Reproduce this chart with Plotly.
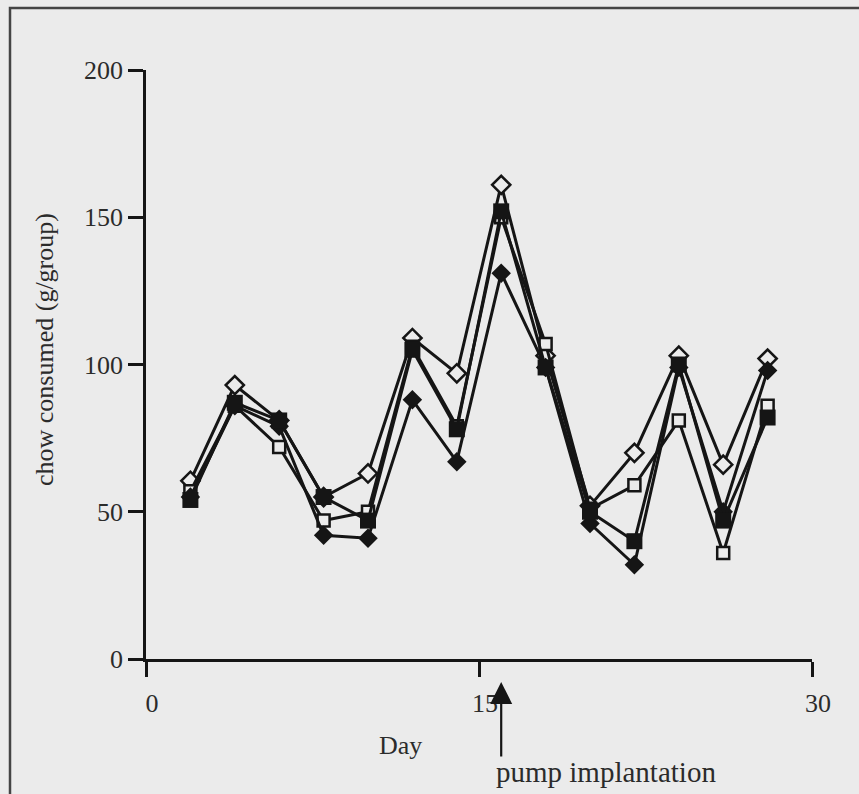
import plotly.graph_objects as go

# ---- data ----
days = [2, 4, 6, 8, 10, 12, 14, 16, 18, 20, 22, 24, 26, 28]
open_diamond = [60.5, 93, 81, 55, 63, 109, 97, 161, 103, 52, 70, 103, 66, 102]
filled_diamond = [55, 86, 79, 42, 41, 88, 67, 131, 99, 46, 32, 99, 50, 98]
filled_square = [54, 87, 81, 55, 47, 105, 78, 152, 99, 50, 40, 100, 47, 82]
open_square = [57, 86, 72, 47, 50, 106, 79, 150, 107, 51, 59, 81, 36, 86]

x_ticks = [0, 15, 30]
y_ticks = [0, 50, 100, 150, 200]
pump_day = 16

BG = "#ebebeb"
INK = "#151515"
TXT = "#2b2b2b"
FONT = "Liberation Serif"

W, H = 859, 794
L, R, T, B = 146, 47, 70, 135
PW, PH = W - L - R, H - T - B


def px_x(p):
    return (p - L) / PW


def px_y(p):
    return (H - B - p) / PH


fig = go.Figure()

series = [
    ("open diamond", open_diamond, "diamond", BG, 14, 2.5),
    ("open square", open_square, "square", BG, 12, 2.5),
    ("filled diamond", filled_diamond, "diamond", INK, 15, 0),
    ("filled square", filled_square, "square", INK, 16, 0),
]
for name, vals, sym, fill, size, lw in series:
    fig.add_trace(go.Scatter(
        x=days, y=vals, name=name, mode="lines+markers",
        line=dict(color=INK, width=3),
        marker=dict(symbol=sym, color=fill, size=size,
                    line=dict(color=INK, width=lw)),
        showlegend=False,
    ))

axis_common = dict(
    showline=True, linecolor=INK, linewidth=2.5,
    ticks="outside", ticklen=15, tickwidth=2.5, tickcolor=INK,
    showgrid=False, zeroline=False,
    tickfont=dict(family=FONT, size=26, color=TXT),
)

fig.update_xaxes(range=[0, 30], tickvals=x_ticks, ticklabelshift=6,
                 ticklabelstandoff=4, **axis_common)
fig.update_yaxes(range=[0, 200], tickvals=y_ticks, **axis_common)

annotations = [
    dict(text="chow consumed (g/group)", x=px_x(44), y=px_y(350),
         xref="paper", yref="paper", textangle=-90, showarrow=False,
         xanchor="center", yanchor="middle",
         font=dict(family=FONT, size=26, color=TXT)),
    dict(text="Day", x=px_x(400), y=px_y(745), xref="paper", yref="paper",
         showarrow=False, xanchor="center", yanchor="middle",
         font=dict(family=FONT, size=26, color=TXT)),
    dict(text="pump implantation", x=px_x(606), y=px_y(772), xref="paper",
         yref="paper", showarrow=False, xanchor="center", yanchor="middle",
         font=dict(family=FONT, size=29, color=TXT)),
    dict(text="", x=pump_day, y=px_y(682), xref="x", yref="paper",
         showarrow=True, ax=0, ay=76, axref="pixel", ayref="pixel",
         arrowhead=2, arrowsize=2, arrowwidth=2.2, arrowcolor=INK),
]

fig.update_layout(
    width=W, height=H,
    margin=dict(l=L, r=R, t=T, b=B, autoexpand=False),
    paper_bgcolor=BG, plot_bgcolor=BG,
    annotations=annotations,
    shapes=[dict(type="rect", xref="paper", yref="paper",
                 x0=px_x(10), x1=px_x(900), y0=px_y(840), y1=px_y(8),
                 line=dict(color="#444444", width=2.5), layer="above")],
)

fig.write_html(
    "out.html",
    config={"displayModeBar": False},
    post_script="document.body.style.margin='0px';"
                "document.body.style.background='#ebebeb';"
                "document.body.style.overflow='hidden';",
)
